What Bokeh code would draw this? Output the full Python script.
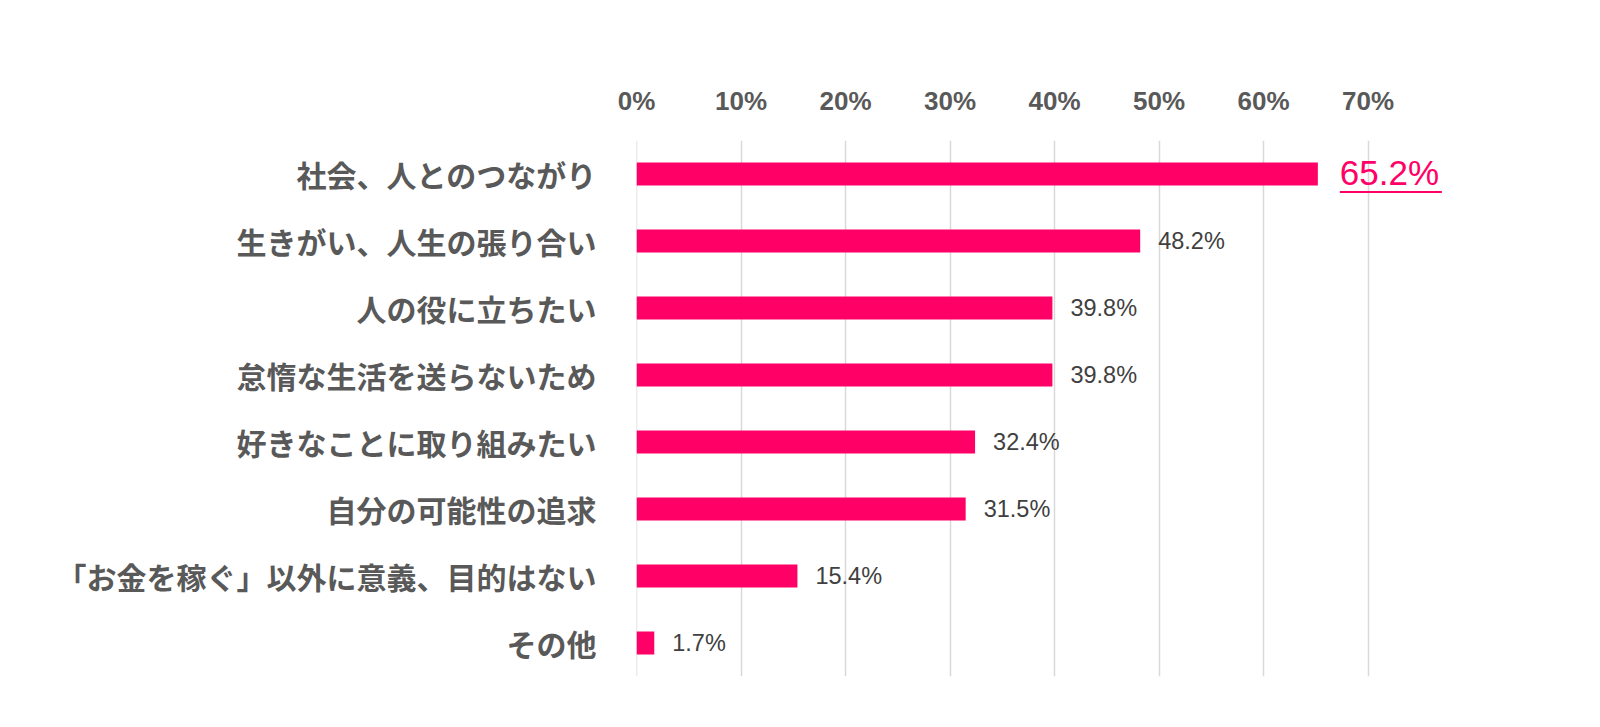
from bokeh.plotting import figure
from bokeh.models import ColumnDataSource, FactorRange, Range1d, FixedTicker, PrintfTickFormatter, Span
from bokeh.core.properties import value
from bokeh.embed import file_html
from bokeh.resources import INLINE

# 回答項目 (上から順)
categories = [
    "社会、人とのつながり",
    "生きがい、人生の張り合い",
    "人の役に立ちたい",
    "怠惰な生活を送らないため",
    "好きなことに取り組みたい",
    "自分の可能性の追求",
    "「お金を稼ぐ」以外に意義、目的はない",
    "その他",
]
percent = [65.2, 48.2, 39.8, 39.8, 32.4, 31.5, 15.4, 1.7]
x_ticks = [0, 10, 20, 30, 40, 50, 60, 70]

BAR = "#FF0066"
GRAY = "#595959"

labels = [f"{v:.1f}%" for v in percent]
src = ColumnDataSource(data=dict(cat=categories, val=percent, label=labels))
# 最大値だけ強調表示
top = max(range(len(percent)), key=lambda i: percent[i])
rest = [i for i in range(len(percent)) if i != top]
src_rest = ColumnDataSource(data=dict(
    cat=[categories[i] for i in rest],
    val=[percent[i] for i in rest],
    label=[labels[i] for i in rest],
))

p = figure(
    y_range=FactorRange(factors=list(reversed(categories)), range_padding=0),
    x_range=Range1d(0, 80),
    x_axis_location="above",
    frame_width=836, frame_height=536,
    min_border_left=636, min_border_top=140,
    min_border_right=20, min_border_bottom=20,
    output_backend="svg", toolbar_location=None,
)

# 0% の目盛線 (フレーム端でも見えるように)
p.add_layout(Span(location=x_ticks[0], dimension="height", line_color="#d9d9d9",
                  line_width=1.5, level="underlay"))

p.hbar(y="cat", left=0, right="val", height=0.344, source=src,
       fill_color=BAR, line_color=None)

p.text(x="val", y="cat", text="label", source=src_rest, x_offset=18,
       text_baseline="middle", text_align="left",
       text_font=value("Liberation Sans"), text_font_size="23.5px",
       text_color="#404040")

# 強調ラベル + 下線
px_per_unit = 836 / 80
off = 22 / px_per_unit
p.text(x=[percent[top]], y=[categories[top]], text=[labels[top]], x_offset=22,
       y_offset=-2, text_baseline="middle", text_align="left",
       text_font=value("Liberation Sans"), text_font_size="35px",
       text_color=BAR)
p.segment(x0=[percent[top] + off], x1=[percent[top] + off + 102 / px_per_unit],
          y0=[(categories[top], -0.27)], y1=[(categories[top], -0.27)],
          line_color=BAR, line_width=2)

xa = p.xaxis[0]
xa.ticker = FixedTicker(ticks=x_ticks)
xa.formatter = PrintfTickFormatter(format="%d%%")
xa.axis_line_color = None
xa.major_tick_line_color = None
xa.minor_tick_line_color = None
xa.major_label_standoff = 19
xa.major_label_text_font = "Liberation Sans"
xa.major_label_text_font_size = "26px"
xa.major_label_text_font_style = "bold"
xa.major_label_text_color = GRAY

ya = p.yaxis[0]
ya.axis_line_color = None
ya.major_tick_line_color = None
ya.minor_tick_line_color = None
ya.major_label_standoff = 34
ya.major_label_text_font = "Noto Sans CJK JP"
ya.major_label_text_font_size = "30px"
ya.major_label_text_font_style = "bold"
ya.major_label_text_color = GRAY

p.xgrid.grid_line_color = "#d9d9d9"
p.xgrid.grid_line_width = 1.5
p.ygrid.grid_line_color = None
p.outline_line_color = None

open("out.html", "w").write(file_html(p, INLINE))
